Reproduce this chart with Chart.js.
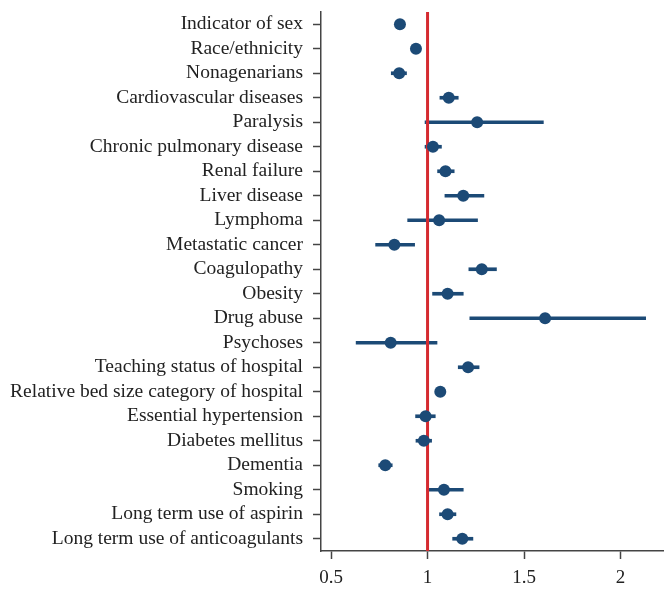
<!DOCTYPE html>
<html>
<head>
<meta charset="utf-8">
<script src="https://cdn.jsdelivr.net/npm/chart.js@4"></script>
<style>
    body { margin: 0; background: #fff; }
    #wrap { width: 664px; height: 589px; }
</style>
</head>
<body>
<div id="wrap"><canvas id="forestChart"></canvas></div>
<script>
const labels = [
    'Indicator of sex', 'Race/ethnicity', 'Nonagenarians', 'Cardiovascular diseases',
    'Paralysis', 'Chronic pulmonary disease', 'Renal failure', 'Liver disease',
    'Lymphoma', 'Metastatic cancer', 'Coagulopathy', 'Obesity', 'Drug abuse',
    'Psychoses', 'Teaching status of hospital', 'Relative bed size category of hospital',
    'Essential hypertension', 'Diabetes mellitus', 'Dementia', 'Smoking',
    'Long term use of aspirin', 'Long term use of anticoagulants'
];
const oddsRatio = [0.857, 0.94, 0.853, 1.11, 1.257, 1.028, 1.093, 1.185, 1.06, 0.828, 1.281,
    1.104, 1.609, 0.809, 1.21, 1.066, 0.99, 0.981, 0.781, 1.085, 1.104, 1.18];
const ciLower = [0.835, 0.93, 0.812, 1.064, 0.987, 0.987, 1.052, 1.09, 0.897, 0.731, 1.214,
    1.026, 1.219, 0.63, 1.159, 1.055, 0.938, 0.94, 0.747, 0.997, 1.062, 1.13];
const ciUpper = [0.878, 0.95, 0.891, 1.159, 1.60, 1.072, 1.138, 1.292, 1.259, 0.933, 1.357,
    1.185, 2.13, 1.049, 1.267, 1.077, 1.04, 1.021, 0.817, 1.185, 1.147, 1.235];
const xTicks = [0.5, 1, 1.5, 2];
const refValue = 1;

const markColor = '#1c4a76';
const axisColor = '#444';

// vertical reference line, drawn over the CI bars but under the dots
const refLine = {
    id: 'refLine',
    afterDatasetDraw(chart, args) {
        if (args.index !== 1) return;
        const { ctx, chartArea, scales } = chart;
        const x = scales.x.getPixelForValue(refValue);
        ctx.save();
        ctx.strokeStyle = '#d52a30';
        ctx.lineWidth = 3;
        ctx.beginPath();
        ctx.moveTo(x, chartArea.top);
        ctx.lineTo(x, chartArea.bottom);
        ctx.stroke();
        ctx.restore();
    }
};

const ctx = document.getElementById('forestChart').getContext('2d');
new Chart(ctx, {
    type: 'bar',
    data: {
        labels: labels,
        datasets: [{
            type: 'line',
            indexAxis: 'y',
            data: oddsRatio,
            showLine: false,
            pointRadius: 6,
            pointHoverRadius: 6,
            pointBackgroundColor: markColor,
            pointBorderColor: markColor,
            pointBorderWidth: 0
        },
        {
            type: 'bar',
            data: labels.map((l, i) => [ciLower[i], ciUpper[i]]),
            backgroundColor: markColor,
            barThickness: 3,
            borderWidth: 0
        }]
    },
    options: {
        indexAxis: 'y',
        responsive: true,
        maintainAspectRatio: false,
        animation: false,
        layout: { autoPadding: false, padding: { top: 12, right: 0, left: 0, bottom: 0 } },
        plugins: {
            legend: { display: false },
            tooltip: { enabled: false }
        },
        scales: {
            x: {
                type: 'linear',
                min: 0.448,
                max: 2.225,
                afterBuildTicks: scale => {
                    scale.ticks = xTicks.map(v => ({ value: v }));
                },
                afterFit: scale => {
                    scale.height = 38;
                    scale.paddingLeft = 0;
                    scale.paddingRight = 0;
                },
                grid: { drawOnChartArea: false, tickLength: 8, tickColor: axisColor, tickWidth: 1.5 },
                border: { color: axisColor, width: 1.5 },
                ticks: {
                    padding: 8,
                    color: '#222',
                    font: { family: 'Liberation Serif', size: 19 },
                    callback: v => v
                }
            },
            y: {
                type: 'category',
                offset: true,
                afterFit: scale => {
                    scale.width = 321;
                    scale.paddingTop = 0;
                    scale.paddingBottom = 0;
                },
                grid: { offset: false, drawOnChartArea: false, tickLength: 8, tickColor: axisColor, tickWidth: 1.5 },
                border: { color: axisColor, width: 1.5 },
                ticks: {
                    padding: 10,
                    color: '#222',
                    autoSkip: false,
                    font: { family: 'Liberation Serif', size: 19.5 }
                }
            }
        }
    },
    plugins: [refLine]
});
</script>
</body>
</html>
